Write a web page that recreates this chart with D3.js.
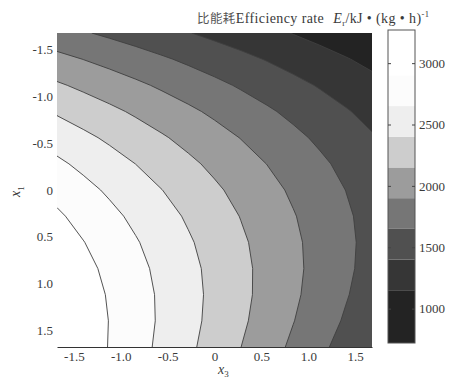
<!DOCTYPE html>
<html>
<head>
<meta charset="utf-8">
<script src="https://cdn.jsdelivr.net/npm/d3@7"></script>
<style>
body { margin: 0; background: #fff; }
svg text { font-family: "Liberation Serif", "Times New Roman", serif; fill: #3a3a3a; }
</style>
</head>
<body>
<svg width="465" height="379"></svg>
<script>
// coded levels where the surface was sampled (same for x3 columns and x1 rows)
const codedLevels = [-1.68, -1.40, -1.12, -0.84, -0.56, -0.28, 0, 0.28, 0.56, 0.84, 1.12, 1.40, 1.68];

// Er values, rows = x1 from -1.68 (top) to 1.68 (bottom), columns = x3
const erRows = [
  [1736, 1671, 1606, 1541, 1475, 1409, 1342, 1276, 1209, 1141, 1074, 1006, 937],
  [1969, 1897, 1825, 1753, 1680, 1607, 1534, 1461, 1387, 1313, 1238, 1164, 1089],
  [2181, 2102, 2024, 1945, 1865, 1786, 1706, 1625, 1545, 1464, 1383, 1301, 1220],
  [2373, 2287, 2202, 2116, 2030, 1944, 1857, 1770, 1683, 1595, 1507, 1419, 1330],
  [2544, 2452, 2360, 2267, 2174, 2081, 1988, 1894, 1800, 1705, 1610, 1515, 1420],
  [2695, 2596, 2497, 2398, 2298, 2198, 2098, 1997, 1897, 1795, 1694, 1592, 1490],
  [2826, 2720, 2614, 2508, 2402, 2295, 2188, 2081, 1973, 1865, 1757, 1648, 1539],
  [2936, 2824, 2711, 2598, 2485, 2371, 2258, 2143, 2029, 1914, 1799, 1684, 1568],
  [3026, 2907, 2788, 2668, 2548, 2427, 2307, 2186, 2065, 1943, 1821, 1699, 1576],
  [3096, 2970, 2844, 2717, 2590, 2463, 2336, 2208, 2080, 1952, 1823, 1694, 1565],
  [3145, 3012, 2879, 2746, 2612, 2478, 2344, 2210, 2075, 1940, 1804, 1668, 1532],
  [3174, 3034, 2894, 2754, 2614, 2473, 2332, 2191, 2049, 1907, 1765, 1623, 1480],
  [3182, 3036, 2889, 2742, 2595, 2448, 2300, 2152, 2004, 1855, 1706, 1557, 1407]
];

const contourLevels = [1150, 1400, 1650, 1900, 2150, 2400, 2650, 2900];
const axisTicks = [-1.5, -1.0, -0.5, 0, 0.5, 1.0, 1.5];
const cbarTicks = [1000, 1500, 2000, 2500, 3000];
const cbarRange = [720, 3270];

// band colours, lowest band first
const bandColors = ["#232323", "#363636", "#505050", "#767676", "#9c9c9c", "#cdcdcd", "#eeeeee", "#fcfcfc", "#ffffff"];

const svg = d3.select("svg");
const plot = { left: 57, right: 372, top: 33, bottom: 347 };

const x = d3.scaleLinear().domain([-1.68, 1.68]).range([plot.left, plot.right]);
const y = d3.scaleLinear().domain([-1.68, 1.68]).range([plot.top, plot.bottom]);

// grid coords (value i sits at i+0.5) -> pixels
const n = codedLevels.length;
const gx = d3.scaleLinear().domain([0.5, n - 0.5]).range([x(codedLevels[0]), x(codedLevels[n - 1])]);
const gy = d3.scaleLinear().domain([0.5, n - 0.5]).range([y(codedLevels[0]), y(codedLevels[n - 1])]);
const path = d3.geoPath(d3.geoTransform({
  point: function(px, py) { this.stream.point(gx(px), gy(py)); }
}));

svg.append("defs").append("clipPath").attr("id", "plotclip")
  .append("rect")
  .attr("x", plot.left).attr("y", plot.top)
  .attr("width", plot.right - plot.left).attr("height", plot.bottom - plot.top);

const g = svg.append("g").attr("clip-path", "url(#plotclip)");

g.append("rect")
  .attr("x", plot.left).attr("y", plot.top)
  .attr("width", plot.right - plot.left).attr("height", plot.bottom - plot.top)
  .attr("fill", bandColors[0]);

const contours = d3.contours().size([n, n]).thresholds(contourLevels)(erRows.flat());

g.selectAll("path.band")
  .data(contours)
  .enter().append("path")
  .attr("class", "band")
  .attr("d", path)
  .attr("fill", (d, i) => bandColors[i + 1])
  .attr("stroke", "#404040")
  .attr("stroke-width", 0.9);

// axes
const fmt = d => d === 0 ? "0" : d.toFixed(1);

const yAxis = svg.append("g")
  .attr("transform", `translate(${plot.left},0)`)
  .call(d3.axisLeft(y).tickValues(axisTicks).tickFormat(fmt).tickSize(0).tickPadding(4));
yAxis.select(".domain").remove();
yAxis.selectAll("text").attr("font-size", 13).attr("fill", "#555");

const xAxis = svg.append("g")
  .attr("transform", `translate(0,${plot.bottom})`)
  .call(d3.axisBottom(x).tickValues(axisTicks).tickFormat(fmt).tickSize(0).tickPadding(5));
xAxis.select(".domain").attr("stroke", "#333").attr("stroke-width", 1.2);
xAxis.selectAll("text").attr("font-size", 13).attr("fill", "#555");

// axis titles
const xt = svg.append("text")
  .attr("x", 218).attr("y", 374)
  .attr("font-size", 14);
xt.append("tspan").attr("font-style", "italic").text("x");
xt.append("tspan").attr("font-size", 9).attr("dy", 3).text("3");

const yt = svg.append("text")
  .attr("transform", "translate(20,197) rotate(-90)")
  .attr("font-size", 14);
yt.append("tspan").attr("font-style", "italic").text("x");
yt.append("tspan").attr("font-size", 9).attr("dy", 4).text("1");

// colour bar
const cb = { left: 388, right: 415, top: 30, bottom: 343 };
const c = d3.scaleLinear().domain(cbarRange).range([cb.bottom, cb.top]);
const edges = [cbarRange[0], ...contourLevels, cbarRange[1]];

svg.append("g").selectAll("rect")
  .data(bandColors)
  .enter().append("rect")
  .attr("x", cb.left)
  .attr("width", cb.right - cb.left)
  .attr("y", (d, i) => c(edges[i + 1]))
  .attr("height", (d, i) => c(edges[i]) - c(edges[i + 1]))
  .attr("fill", d => d);

svg.append("rect")
  .attr("x", cb.left).attr("y", cb.top)
  .attr("width", cb.right - cb.left).attr("height", cb.bottom - cb.top)
  .attr("fill", "none").attr("stroke", "#555").attr("stroke-width", 1);

const cAxisR = svg.append("g")
  .attr("transform", `translate(${cb.right},0)`)
  .call(d3.axisRight(c).tickValues(cbarTicks).tickFormat(d3.format("d")).tickSize(-3).tickPadding(4));
cAxisR.select(".domain").remove();
cAxisR.selectAll("line").attr("stroke", "#444");
cAxisR.selectAll("text").attr("font-size", 13).attr("fill", "#555");

const cAxisL = svg.append("g")
  .attr("transform", `translate(${cb.left},0)`)
  .call(d3.axisLeft(c).tickValues(cbarTicks).tickSize(-3).tickFormat(""));
cAxisL.select(".domain").remove();
cAxisL.selectAll("line").attr("stroke", "#444");

// colour bar title
const title = svg.append("text")
  .attr("x", 197).attr("y", 23)
  .attr("font-size", 14)
  .attr("letter-spacing", 0.4);
title.append("tspan").attr("font-family", "Noto Sans CJK SC").attr("font-size", 12.5).attr("fill", "#555").text("比能耗");
title.append("tspan").text("Efficiency rate");
title.append("tspan").attr("dx", 9).attr("font-style", "italic").text("E");
title.append("tspan").attr("font-size", 8.5).attr("dy", 3).text("r");
title.append("tspan").attr("dy", -3).text("/kJ • (kg • h)");
title.append("tspan").attr("font-size", 8.5).attr("dy", -6).text("-1");
</script>
</body>
</html>
